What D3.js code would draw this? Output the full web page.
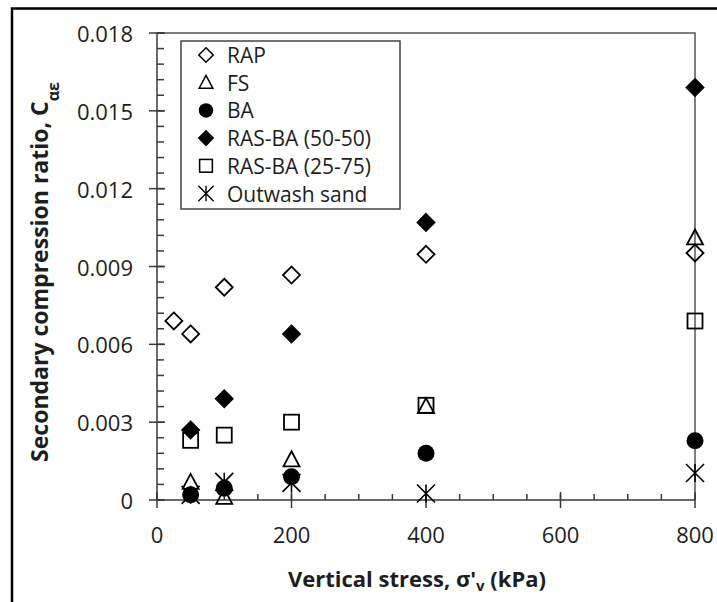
<!DOCTYPE html>
<html>
<head>
<meta charset="utf-8">
<script src="https://cdn.jsdelivr.net/npm/d3@7"></script>
<style>
  body { margin: 0; background: #fff; }
  svg { display: block; }
  text { font-family: "Open Sans", sans-serif; fill: #1e1e1e; }
</style>
</head>
<body>
<svg id="chart" width="717" height="602"></svg>
<script>
// vertical stress levels (kPa)
var stress = [25, 50, 100, 200, 400, 800];

// secondary compression ratio per material (null = not tested)
var rap       = [0.0069, 0.0064, 0.0082, 0.00867, 0.00947, 0.00952];
var fs        = [null, 0.00068, 0.0001, 0.00155, 0.0036, 0.0101];
var ba        = [null, 0.0002, 0.00045, 0.0009, 0.0018, 0.00228];
var rasba5050 = [null, 0.0027, 0.0039, 0.0064, 0.0107, 0.0159];
var rasba2575 = [null, 0.0023, 0.0025, 0.003, 0.00365, 0.0069];
var outwash   = [null, 0.0002, 0.0007, 0.00066, 0.00025, 0.00104];

var seriesNames = ["RAP", "FS", "BA", "RAS-BA (50-50)", "RAS-BA (25-75)", "Outwash sand"];
var seriesValues = [rap, fs, ba, rasba5050, rasba2575, outwash];
var seriesMarkers = ["diamondOpen", "triangle", "circle", "diamondFilled", "square", "star"];

var xTicks = [0, 200, 400, 600, 800];
var yTicks = [0, 0.003, 0.006, 0.009, 0.012, 0.015, 0.018];

var svg = d3.select("#chart");

// outer picture frame (only top and left show)
svg.append("path")
    .attr("d", "M12,602 V8.5 H717")
    .attr("fill", "none")
    .attr("stroke", "#000")
    .attr("stroke-width", 2.5);

var x = d3.scaleLinear().domain([0, 800]).range([157, 695]);
var y = d3.scaleLinear().domain([0, 0.018]).range([500, 33]);

var axisColor = "#3a3a3a";

// plot frame: top and right edges
svg.append("path")
    .attr("d", "M" + x(0) + "," + y(0.018) + " H" + x(800) + " V" + y(0))
    .attr("fill", "none")
    .attr("stroke", "#555")
    .attr("stroke-width", 1.5);

// y axis
var yAxis = svg.append("g").attr("class", "y-axis");
yAxis.append("line")
    .attr("x1", x(0)).attr("x2", x(0))
    .attr("y1", y(0)).attr("y2", y(0.018))
    .attr("stroke", axisColor).attr("stroke-width", 1.5);

// minor ticks every 0.0006, inside
var yMinor = d3.range(0, 0.01801, 0.0006);
yAxis.selectAll(".minor")
    .data(yMinor)
    .enter().append("line")
    .attr("x1", x(0)).attr("x2", x(0) + 7)
    .attr("y1", function (d) { return y(d) }).attr("y2", function (d) { return y(d) })
    .attr("stroke", axisColor).attr("stroke-width", 1.5);

yAxis.selectAll(".major")
    .data(yTicks)
    .enter().append("line")
    .attr("x1", x(0) - 8).attr("x2", x(0) + 8)
    .attr("y1", function (d) { return y(d) }).attr("y2", function (d) { return y(d) })
    .attr("stroke", axisColor).attr("stroke-width", 1.5);

yAxis.selectAll("text")
    .data(yTicks)
    .enter().append("text")
    .attr("x", 133)
    .attr("y", function (d) { return y(d) })
    .attr("text-anchor", "end")
    .attr("dominant-baseline", "central")
    .style("font-size", "22px")
    .text(function (d) { return d === 0 ? "0" : d3.format(".3f")(d) });

// x axis
var xAxis = svg.append("g").attr("class", "x-axis");
xAxis.append("line")
    .attr("x1", x(0)).attr("x2", x(800))
    .attr("y1", y(0)).attr("y2", y(0))
    .attr("stroke", axisColor).attr("stroke-width", 1.5);

var xMinor = d3.range(0, 801, 50);
xAxis.selectAll(".minor")
    .data(xMinor)
    .enter().append("line")
    .attr("x1", function (d) { return x(d) }).attr("x2", function (d) { return x(d) })
    .attr("y1", y(0)).attr("y2", y(0) - 6)
    .attr("stroke", axisColor).attr("stroke-width", 1.5);

xAxis.selectAll(".major")
    .data(xTicks)
    .enter().append("line")
    .attr("x1", function (d) { return x(d) }).attr("x2", function (d) { return x(d) })
    .attr("y1", y(0) - 8).attr("y2", y(0) + 8)
    .attr("stroke", axisColor).attr("stroke-width", 1.5);

xAxis.selectAll("text")
    .data(xTicks)
    .enter().append("text")
    .attr("x", function (d) { return x(d) })
    .attr("y", 534)
    .attr("text-anchor", "middle")
    .attr("dominant-baseline", "central")
    .style("font-size", "22px")
    .text(function (d) { return d });

// axis titles
var xTitle = svg.append("text")
    .attr("x", 417)
    .attr("y", 587)
    .attr("text-anchor", "middle")
    .style("font-size", "22px")
    .style("font-weight", "bold");
xTitle.append("tspan").text("Vertical stress, σ'");
xTitle.append("tspan").attr("dy", 4).style("font-size", "15px").text("v");
xTitle.append("tspan").attr("dy", -4).text(" (kPa)");

var yTitle = svg.append("text")
    .attr("transform", "translate(48,272) rotate(-90)")
    .attr("text-anchor", "middle")
    .style("font-size", "23px")
    .style("font-weight", "bold");
yTitle.append("tspan").text("Secondary compression ratio, C");
yTitle.append("tspan").attr("baseline-shift", "sub").style("font-size", "16px").text("αε");

// marker drawing
function drawMarker(g, type) {
    if (type === "diamondOpen" || type === "diamondFilled") {
        g.append("path")
            .attr("d", "M0,-8.5 L8.5,0 L0,8.5 L-8.5,0 Z")
            .attr("fill", type === "diamondFilled" ? "#000" : "none")
            .attr("stroke", "#000").attr("stroke-width", 1.8);
    } else if (type === "triangle") {
        g.append("path")
            .attr("d", "M0,-8.5 L8,6.5 L-8,6.5 Z")
            .attr("fill", "none")
            .attr("stroke", "#000").attr("stroke-width", 1.8);
    } else if (type === "circle") {
        g.append("circle").attr("r", 8.5).attr("fill", "#000");
    } else if (type === "square") {
        g.append("rect")
            .attr("x", -7.5).attr("y", -7.5).attr("width", 15).attr("height", 15)
            .attr("fill", "none")
            .attr("stroke", "#000").attr("stroke-width", 1.8);
    } else if (type === "star") {
        g.append("path")
            .attr("d", "M-9,-9 L9,9 M-9,9 L9,-9 M0,-9 V9")
            .attr("fill", "none")
            .attr("stroke", "#000").attr("stroke-width", 1.6);
    }
}

// data points
seriesValues.forEach(function (vals, si) {
    var pts = stress.map(function (s, i) { return { s: s, v: vals[i] } })
        .filter(function (d) { return d.v !== null });
    var grp = svg.append("g").attr("class", "series-" + si);
    grp.selectAll("g")
        .data(pts)
        .enter().append("g")
        .attr("transform", function (d) { return "translate(" + x(d.s) + "," + y(d.v) + ")" })
        .each(function () { drawMarker(d3.select(this), seriesMarkers[si]) });
});

// legend
var legend = svg.append("g").attr("class", "legend");
legend.append("rect")
    .attr("x", 181).attr("y", 41).attr("width", 219).attr("height", 168)
    .attr("fill", "#fff")
    .attr("stroke", "#444").attr("stroke-width", 1.5);

var rows = legend.selectAll(".row")
    .data(seriesNames)
    .enter().append("g")
    .attr("class", "row")
    .attr("transform", function (d, i) { return "translate(206," + (55 + i * 27.7) + ")" });

rows.each(function (d, i) {
    var g = d3.select(this);
    var m = g.append("g").attr("transform", "scale(0.85)");
    drawMarker(m, seriesMarkers[i]);
    g.append("text")
        .attr("x", 21)
        .attr("y", 0)
        .attr("dominant-baseline", "central")
        .style("font-size", "21px")
        .text(d);
});
</script>
</body>
</html>
